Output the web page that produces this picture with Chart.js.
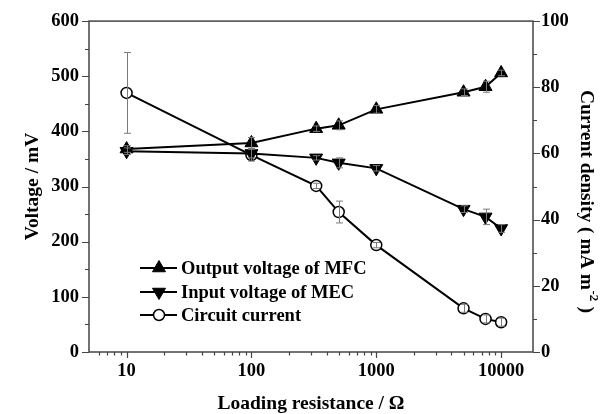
<!DOCTYPE html>
<html><head><meta charset="utf-8">
<script src="https://cdn.jsdelivr.net/npm/chart.js@4/dist/chart.umd.min.js"></script>
<style>html,body{margin:0;padding:0;background:#fff}canvas{display:block}</style>
</head>
<body>
<canvas id="c" width="602" height="414"></canvas>
<script>
// ---- data ----
const resistance = [10, 100, 330, 500, 1000, 5000, 7500, 10000];
const mfcVoltage = [368, 379, 405, 411, 440, 471, 481, 506];
const mfcError   = [6, 10, 5, 8, 7, 6, 10, 5];
const mecVoltage = [364, 360, 352, 343, 333, 259, 245, 224];
const mecError   = [6, 8, 4, 9, 5, 6, 14, 7];
const currentDensity = [78.3, 59.5, 50.2, 42.3, 32.3, 13.2, 10.0, 9.0];
const currentError   = [12.2, 1.8, 0.8, 3.3, 0.8, 1.2, 1.2, 1.2];
const xTicks  = [10, 100, 1000, 10000];
const yTicks  = [0, 100, 200, 300, 400, 500, 600];
const y1Ticks = [0, 20, 40, 60, 80, 100];
const seriesNames = ['Output voltage of MFC', 'Input voltage of MEC', 'Circuit current'];

const FONT = '"Liberation Serif", "Times New Roman", serif';
const pairs = ys => resistance.map((x, i) => ({x: x, y: ys[i]}));

const framePlugin = {
  id: 'frame',
  beforeDatasetsDraw(chart) {
    const ctx = chart.ctx, a = chart.chartArea;
    const xs = chart.scales.x, ys = chart.scales.y, y1 = chart.scales.y1;
    ctx.save();
    ctx.strokeStyle = '#444';
    ctx.lineWidth = 1.5;
    ctx.strokeRect(a.left, a.top, a.right - a.left, a.bottom - a.top);
    ctx.lineWidth = 1.2;
    ctx.beginPath();
    for (let v = 0; v <= 600; v += 50) {
      const p = Math.round(ys.getPixelForValue(v)) + 0.5;
      const len = (v % 100 === 0) ? 7 : 4;
      ctx.moveTo(a.left, p); ctx.lineTo(a.left - len, p);
    }
    for (let v = 0; v <= 100; v += 10) {
      const p = Math.round(y1.getPixelForValue(v)) + 0.5;
      const len = (v % 20 === 0) ? 7 : 4;
      ctx.moveTo(a.right, p); ctx.lineTo(a.right + len, p);
    }
    for (let d = 1; d <= 10000; d *= 10) {
      for (let k = 1; k <= 9; k++) {
        const v = k * d;
        if (v <= xs.min || v >= xs.max) continue;
        const p = Math.round(xs.getPixelForValue(v)) + 0.5;
        const len = (k === 1) ? 6 : 3.5;
        ctx.moveTo(p, a.bottom); ctx.lineTo(p, a.bottom + len);
      }
    }
    ctx.stroke();
    ctx.restore();
  }
};

const errorPlugin = {
  id: 'errorBars',
  afterDatasetsDraw(chart) {
    const ctx = chart.ctx, xs = chart.scales.x;
    ctx.save();
    ctx.strokeStyle = '#7a7a7a';
    ctx.lineWidth = 1;
    chart.data.datasets.forEach(ds => {
      const sc = chart.scales[ds.yAxisID];
      ds.data.forEach((pt, i) => {
        const e = ds.errors[i];
        const px = Math.round(xs.getPixelForValue(pt.x)) + 0.5;
        const top = sc.getPixelForValue(pt.y + e);
        const bot = sc.getPixelForValue(pt.y - e);
        ctx.beginPath();
        ctx.moveTo(px, top); ctx.lineTo(px, bot);
        ctx.moveTo(px - 3.5, top); ctx.lineTo(px + 3.5, top);
        ctx.moveTo(px - 3.5, bot); ctx.lineTo(px + 3.5, bot);
        ctx.stroke();
      });
    });
    ctx.restore();
  }
};

const textPlugin = {
  id: 'texts',
  afterDraw(chart) {
    const ctx = chart.ctx, a = chart.chartArea;
    ctx.save();
    ctx.fillStyle = '#000';
    const rows = [268, 292, 315];
    chart.data.datasets.forEach((ds, i) => {
      const y = rows[i];
      ctx.strokeStyle = '#000';
      ctx.lineWidth = 2;
      ctx.beginPath(); ctx.moveTo(140, y); ctx.lineTo(177, y); ctx.stroke();
      ctx.fillStyle = ds.pointBackgroundColor;
      ctx.strokeStyle = '#000';
      ctx.lineWidth = ds.pointBorderWidth;
      Chart.helpers.drawPoint(ctx, {pointStyle: ds.pointStyle, radius: ds.pointRadius, rotation: ds.pointRotation || 0, borderWidth: ds.pointBorderWidth}, 159, y);
      ctx.fillStyle = '#000';
      ctx.font = 'bold 18.5px ' + FONT;
      ctx.textAlign = 'left';
      ctx.textBaseline = 'middle';
      ctx.fillText(ds.label, 181, y + 1);
    });
    ctx.font = 'bold 19.5px ' + FONT;
    ctx.textAlign = 'center';
    ctx.textBaseline = 'alphabetic';
    ctx.fillText('Loading resistance / \u03A9', (a.left + a.right) / 2, 409);
    ctx.save();
    ctx.translate(33, (a.top + a.bottom) / 2);
    ctx.rotate(-Math.PI / 2);
    ctx.textBaseline = 'middle';
    ctx.fillText('Voltage / mV', 0, 0);
    ctx.restore();
    ctx.save();
    ctx.translate(586, 201);
    ctx.rotate(Math.PI / 2);
    ctx.textBaseline = 'middle';
    ctx.textAlign = 'left';
    const p1 = 'Current density ( mA m', sup = '-2', p2 = ' )';
    ctx.font = 'bold 19.5px ' + FONT;
    const w1 = ctx.measureText(p1).width, w3 = ctx.measureText(p2).width;
    ctx.font = 'bold 13px ' + FONT;
    const w2 = ctx.measureText(sup).width;
    let x0 = -(w1 + w2 + w3) / 2;
    ctx.font = 'bold 19.5px ' + FONT;
    ctx.fillText(p1, x0, 0);
    ctx.font = 'bold 13px ' + FONT;
    ctx.fillText(sup, x0 + w1 + 0.5, -7);
    ctx.font = 'bold 19.5px ' + FONT;
    ctx.fillText(p2, x0 + w1 + w2 + 1, 0);
    ctx.restore();
    ctx.restore();
  }
};

const tickFont = {family: FONT, size: 18.5, weight: 'bold'};

new Chart(document.getElementById('c'), {
  type: 'line',
  data: {
    datasets: [
      {label: seriesNames[0], data: pairs(mfcVoltage), errors: mfcError, yAxisID: 'y',
       borderColor: '#000', borderWidth: 2, pointStyle: 'triangle', pointRadius: 7.5,
       pointBackgroundColor: '#000', pointBorderColor: '#000', pointBorderWidth: 1, tension: 0},
      {label: seriesNames[1], data: pairs(mecVoltage), errors: mecError, yAxisID: 'y',
       borderColor: '#000', borderWidth: 2, pointStyle: 'triangle', pointRotation: 180, pointRadius: 7.5,
       pointBackgroundColor: '#000', pointBorderColor: '#000', pointBorderWidth: 1, tension: 0},
      {label: seriesNames[2], data: pairs(currentDensity), errors: currentError, yAxisID: 'y1',
       borderColor: '#000', borderWidth: 2, pointStyle: 'circle', pointRadius: 5.5,
       pointBackgroundColor: '#fff', pointBorderColor: '#000', pointBorderWidth: 1.5, tension: 0}
    ]
  },
  options: {
    responsive: false,
    animation: false,
    layout: {padding: {top: 21, left: 0, right: 0, bottom: 0}},
    plugins: {legend: {display: false}, tooltip: {enabled: false}},
    scales: {
      x: {
        type: 'logarithmic', position: 'bottom', min: 5, max: 18000,
        afterBuildTicks(s) { s.ticks = xTicks.map(v => ({value: v})); },
        afterFit(s) { s.height = 62; },
        grid: {display: false, drawTicks: false}, border: {display: false},
        ticks: {padding: 8, color: '#000', font: tickFont, autoSkip: false, maxRotation: 0,
                callback: v => String(v)}
      },
      y: {
        type: 'linear', position: 'left', min: 0, max: 600,
        afterBuildTicks(s) { s.ticks = yTicks.map(v => ({value: v})); },
        afterFit(s) { s.width = 89; },
        grid: {display: false, drawTicks: false}, border: {display: false},
        ticks: {padding: 10, color: '#000', font: tickFont}
      },
      y1: {
        type: 'linear', position: 'right', min: 0, max: 100,
        afterBuildTicks(s) { s.ticks = y1Ticks.map(v => ({value: v})); },
        afterFit(s) { s.width = 69; },
        grid: {display: false, drawTicks: false}, border: {display: false},
        ticks: {padding: 8, color: '#000', font: tickFont}
      }
    }
  },
  plugins: [framePlugin, errorPlugin, textPlugin]
});
</script>
</body></html>
